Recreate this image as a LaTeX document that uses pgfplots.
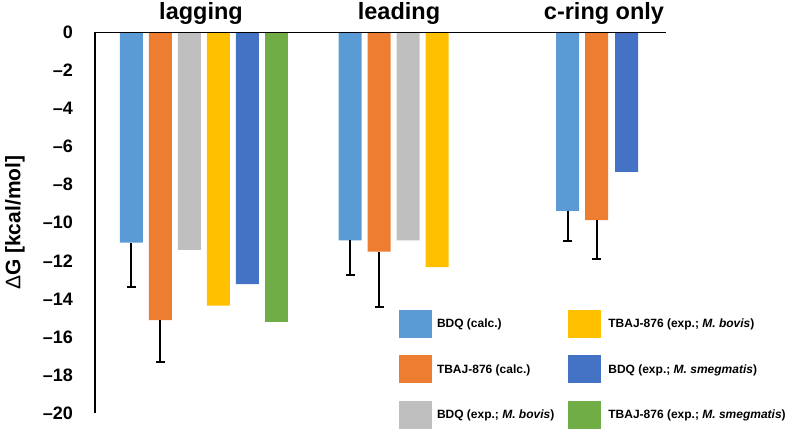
\documentclass[border=0pt]{standalone}
\usepackage{pgfplots}
\pgfplotsset{compat=1.18}
\usepackage{fontspec}
\setmainfont{Liberation Sans}
\definecolor{cBlue}{HTML}{5B9BD5}
\definecolor{cOrange}{HTML}{ED7D31}
\definecolor{cGray}{HTML}{BFBFBF}
\definecolor{cYellow}{HTML}{FFC000}
\definecolor{cDBlue}{HTML}{4472C4}
\definecolor{cGreen}{HTML}{70AD47}
\pgfplotsset{
  myerr/.style={
    error bars/y dir=minus, error bars/y explicit,
    error bars/error bar style={line width=2pt, draw=black, solid},
    error bars/error mark options={rotate=90, mark size=4.5pt, line width=2pt, draw=black, solid}
  }
}
\begin{document}
\begin{tikzpicture}
\begin{axis}[
  at={(0,0)}, anchor=south west,
  scale only axis, width=571pt, height=380.5pt,
  xmin=0, xmax=571, ymin=-20, ymax=0,
  axis on top,
  axis x line=top, axis y line=left,
  axis line style={-, line width=1.6pt, black},
  xtick=\empty,
  ytick={-20,-18,-16,-14,-12,-10,-8,-6,-4,-2,0},
  yticklabels={–20,–18,–16,–14,–12,–10,–8,–6,–4,–2,0},
  major tick length=0pt,
  yticklabel style={font=\bfseries\fontsize{18}{19}\selectfont, inner sep=0pt, anchor=east, xshift=-22pt},
  ylabel={{\mdseries Δ}G [kcal/mol]},
  ylabel style={font=\bfseries\fontsize{21}{23}\selectfont, at={(axis description cs:-0.1226,0.5)}, anchor=south, inner sep=0pt},
  clip=false,
  ybar, bar shift=0pt, bar width=23pt,
  legend columns=3,
  transpose legend,
  legend cell align=left,
  legend image code/.code={\fill[#1] (0pt,-14pt) rectangle (33pt,14pt);},
  legend style={draw=none, fill=none, at={(axis cs:304,-14.586)}, anchor=north west,
    inner sep=0pt, outer sep=0pt, row sep=17.5pt,
    nodes={inner sep=0pt, anchor=west, font=\bfseries\fontsize{12}{14}\selectfont},
    /tikz/column 1/.style={column sep=5pt},
    /tikz/column 2/.style={column sep=14pt},
    /tikz/column 3/.style={column sep=7pt}},
]
\addplot[fill=cBlue, draw=none, myerr] coordinates {(36.5,-11.05) +- (0,2.35) (255,-10.93) +- (0,1.84) (472.5,-9.37) +- (0,1.59)};
\addlegendentry{BDQ (calc.)}
\addplot[fill=cOrange, draw=none, myerr] coordinates {(65.5,-15.12) +- (0,2.22) (284,-11.52) +- (0,2.91) (501.5,-9.86) +- (0,2.03)};
\addlegendentry{TBAJ-876 (calc.)}
\addplot[fill=cGray, draw=none] coordinates {(94.5,-11.42) (313,-10.93)};
\addlegendentry{BDQ (exp.; \textit{M. bovis})}
\addplot[fill=cYellow, draw=none] coordinates {(123.5,-14.36) (342,-12.33)};
\addlegendentry{TBAJ-876 (exp.; \textit{M. bovis})}
\addplot[fill=cDBlue, draw=none] coordinates {(152.5,-13.22) (531.5,-7.32)};
\addlegendentry{BDQ (exp.; \textit{M. smegmatis})}
\addplot[fill=cGreen, draw=none] coordinates {(181.5,-15.24)};
\addlegendentry{TBAJ-876 (exp.; \textit{M. smegmatis})}
\node[anchor=base, inner sep=0pt, font=\bfseries\fontsize{23.5}{25}\selectfont] at (axis cs:106,0) [yshift=13.2pt] {lagging};
\node[anchor=base, inner sep=0pt, font=\bfseries\fontsize{23.5}{25}\selectfont] at (axis cs:304,0) [yshift=13.2pt] {leading};
\node[anchor=base, inner sep=0pt, font=\bfseries\fontsize{23.5}{25}\selectfont] at (axis cs:509,0) [yshift=13.2pt] {c-ring only};
\end{axis}
\pgfresetboundingbox
\path (-95pt,-18pt) rectangle (695pt,413pt);
\end{tikzpicture}
\end{document}
